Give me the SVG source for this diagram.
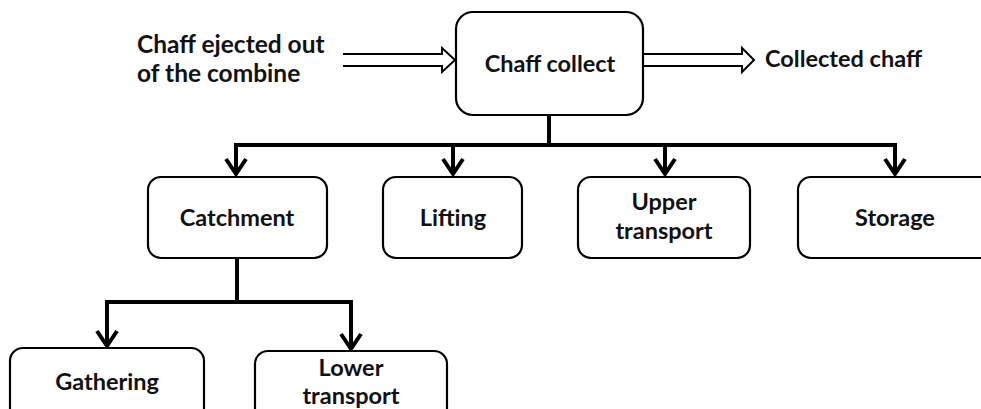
<svg xmlns="http://www.w3.org/2000/svg" width="981" height="409" viewBox="0 0 981 409">
<defs>
<style>
.box{fill:#fff;stroke:#000;stroke-width:2.2}
.t{font-family:Lato,"Open Sans","Liberation Sans",sans-serif;font-weight:bold;font-size:23.5px;fill:#111;text-anchor:middle}
.tl{font-family:Lato,"Open Sans","Liberation Sans",sans-serif;font-weight:bold;font-size:24.5px;fill:#111}
.c{fill:none;stroke:#000;stroke-width:4;stroke-linejoin:miter}
.h{fill:none;stroke:#000;stroke-width:4;stroke-linecap:butt;stroke-linejoin:miter}
.hollow{fill:#fff;stroke:#000;stroke-width:2}
</style>
</defs>
<rect width="981" height="409" fill="#fff"/>
<g id="connectors">
<path class="hollow" d="M343,54 H442 V48 L455,60 L442,72 V66 H343"/>
<path class="hollow" d="M643,54 H742 V48 L754,60 L742,72 V66 H643"/>
<path class="c" d="M549,115 V145 M236,145 H897 M236,143 V174 M453,145 V174 M665,145 V174 M895,143 V174"/>
<path class="h" d="M226,159 L236,174 L246,159 M443,159 L453,174 L463,159 M655,159 L665,174 L675,159 M885,159 L895,174 L905,159"/>
<path class="c" d="M237,258 V302 M107,302 H351 M107,300 V345 M351,300 V348"/>
<path class="h" d="M97,331 L107,346 L117,331 M341,334 L351,349 L361,334"/>
</g>
<g id="input-label">
<text class="tl" x="137" y="53">Chaff ejected out</text>
<text class="tl" x="137" y="82">of the combine</text>
</g>
<g id="output-label">
<text class="tl" x="765" y="67" style="font-size:23.5px">Collected chaff</text>
</g>
<g id="chaff-collect">
<rect class="box" x="456" y="12" width="187" height="103" rx="17"/>
<text class="t" x="550" y="72">Chaff collect</text>
</g>
<g id="catchment">
<rect class="box" x="148" y="177" width="179" height="81" rx="13"/>
<text class="t" x="237" y="226">Catchment</text>
</g>
<g id="lifting">
<rect class="box" x="383" y="177" width="139" height="81" rx="13"/>
<text class="t" x="453" y="226">Lifting</text>
</g>
<g id="upper-transport">
<rect class="box" x="578" y="177" width="172" height="81" rx="13"/>
<text class="t" x="664" y="210">Upper</text>
<text class="t" x="664" y="239">transport</text>
</g>
<g id="storage">
<rect class="box" x="798" y="177" width="200" height="81" rx="13"/>
<text class="t" x="895" y="226">Storage</text>
</g>
<g id="gathering">
<rect class="box" x="10" y="348" width="194" height="80" rx="13"/>
<text class="t" x="107" y="390">Gathering</text>
</g>
<g id="lower-transport">
<rect class="box" x="255" y="351" width="192" height="80" rx="13"/>
<text class="t" x="351" y="376">Lower</text>
<text class="t" x="351" y="404">transport</text>
</g>
</svg>
